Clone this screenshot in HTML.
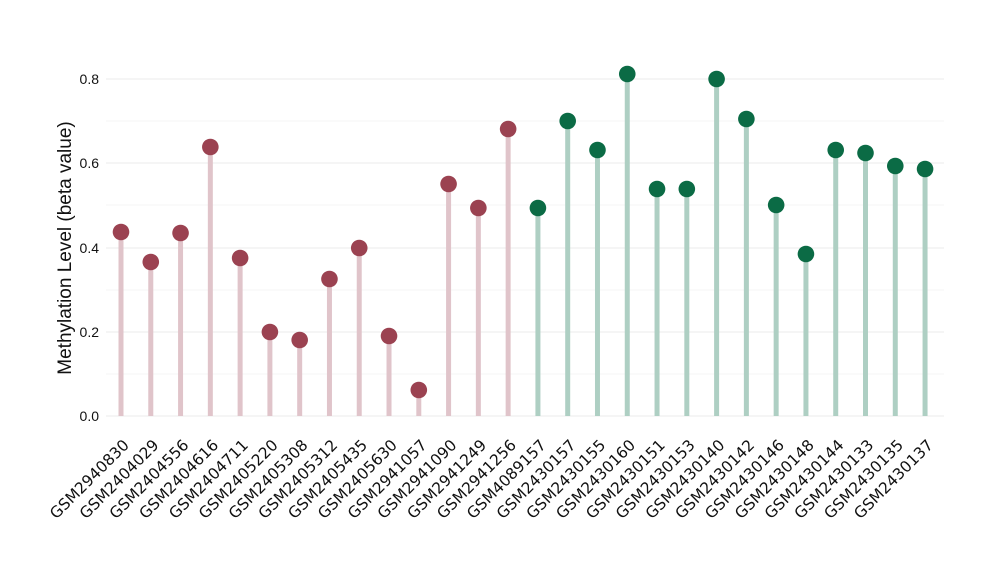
<!DOCTYPE html>
<html><head><meta charset="utf-8"><style>body{margin:0;background:#fff}svg{display:block}</style></head>
<body>
<svg id="c" width="1000" height="580" xmlns="http://www.w3.org/2000/svg" font-family="DejaVu Sans, Liberation Sans, sans-serif">
<g stroke="#ebebeb" stroke-width="1">
<line x1="106" x2="944" y1="416" y2="416"/><line x1="106" x2="944" y1="332" y2="332"/><line x1="106" x2="944" y1="248" y2="248"/><line x1="106" x2="944" y1="163" y2="163"/><line x1="106" x2="944" y1="79" y2="79"/>
</g>
<g stroke="#f5f5f5" stroke-width="1">
<line x1="106" x2="944" y1="374" y2="374"/><line x1="106" x2="944" y1="290" y2="290"/><line x1="106" x2="944" y1="205" y2="205"/><line x1="106" x2="944" y1="121" y2="121"/>
</g>
<g font-size="14" fill="#111" text-anchor="end" font-family="Liberation Sans, sans-serif">
<text x="99" y="421">0.0</text><text x="99" y="337">0.2</text><text x="99" y="253">0.4</text><text x="99" y="168">0.6</text><text x="99" y="84">0.8</text>
</g>
<text transform="translate(71,248) rotate(-90)" text-anchor="middle" font-size="19" fill="#111" font-family="Liberation Sans, sans-serif">Methylation Level (beta value)</text>
<g id="g"></g>
</svg>
<script>
var names=["GSM2940830","GSM2404029","GSM2404556","GSM2404616","GSM2404711","GSM2405220","GSM2405308","GSM2405312","GSM2405435","GSM2405630","GSM2941057","GSM2941090","GSM2941249","GSM2941256","GSM4089157","GSM2430157","GSM2430155","GSM2430160","GSM2430151","GSM2430153","GSM2430140","GSM2430142","GSM2430146","GSM2430148","GSM2430144","GSM2430133","GSM2430135","GSM2430137"];
var ys=[232,262,233,147,258,332,340,279,248,336,390,184,208,129,208,121,150,74,189,189,79,119,205,254,150,153,166,169];
var s="";
for(var i=0;i<28;i++){var x=121+i*29.78;var r=i<14;
s+='<line x1="'+x+'" x2="'+x+'" y1="416" y2="'+ys[i]+'" stroke="'+(r?'#e0c4ca':'#aecfc3')+'" stroke-width="5"/>';
s+='<circle cx="'+x+'" cy="'+ys[i]+'" r="8.3" fill="'+(r?'#9b4251':'#0b6b45')+'"/>';
s+='<text transform="translate('+(x+9)+',446) rotate(-45)" text-anchor="end" font-size="15.5" fill="#111">'+names[i]+'</text>';}
document.getElementById("g").innerHTML=s;
</script>
</body></html>
